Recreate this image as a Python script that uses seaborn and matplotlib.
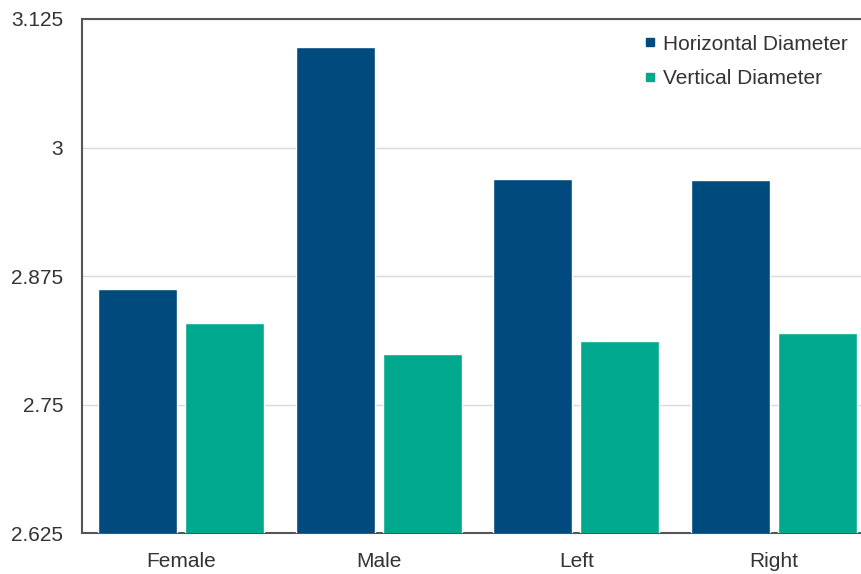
import matplotlib
matplotlib.use("Agg")
import matplotlib.pyplot as plt
from matplotlib.lines import Line2D
import seaborn as sns
import pandas as pd

categories = ["Female", "Male", "Left", "Right"]
horizontal = [2.862, 3.098, 2.969, 2.968]
vertical = [2.829, 2.799, 2.812, 2.820]
series_names = ["Horizontal Diameter", "Vertical Diameter"]
y_ticks = [2.625, 2.75, 2.875, 3, 3.125]
y_tick_labels = ["2.625", "2.75", "2.875", "3", "3.125"]

df = pd.DataFrame({
    "group": categories * 2,
    "value": horizontal + vertical,
    "series": [series_names[0]] * 4 + [series_names[1]] * 4,
})

sns.set_theme(style="white")
plt.rcParams["font.family"] = ["Liberation Sans", "DejaVu Sans"]

fig = plt.figure(figsize=(8.62, 5.74), dpi=100)
ax = fig.add_axes([0.0957, 0.0714, 0.9165, 0.8955])

colors = ["#004A7E", "#00A98E"]
palette = dict(zip(series_names, colors))
sns.barplot(data=df, x="group", y="value", hue="series", order=categories,
            hue_order=series_names, palette=palette, width=0.88, gap=0.09,
            saturation=1, ax=ax, zorder=3, legend=False)

ax.set_ylim(2.625, 3.125)
ax.set_xlim(-0.5, 3.5)
ax.set_yticks(y_ticks)
ax.set_yticklabels(y_tick_labels)
ax.set_xlabel("")
ax.set_ylabel("")
ax.grid(axis="y", color="#D9D9D9", linewidth=1, zorder=0)
ax.tick_params(axis="both", length=0, labelsize=15, colors="#333333")
ax.tick_params(axis="y", pad=14)
ax.tick_params(axis="x", pad=14)

for side in ["left", "top", "bottom"]:
    ax.spines[side].set_visible(True)
    ax.spines[side].set_color("#555555")
    ax.spines[side].set_linewidth(1.5)
ax.spines["right"].set_visible(False)

handles = [Line2D([], [], linestyle="none", marker="s", markersize=5.5,
                  markerfacecolor=c, markeredgecolor=c) for c in colors]
leg = ax.legend(handles, series_names, loc="upper right",
                bbox_to_anchor=(0.982, 0.99), frameon=False, borderpad=0,
                fontsize=15, handlelength=0.6, handletextpad=0.35,
                labelspacing=0.75)
for t in leg.get_texts():
    t.set_color("#333333")

fig.savefig("out.png", dpi=100)
